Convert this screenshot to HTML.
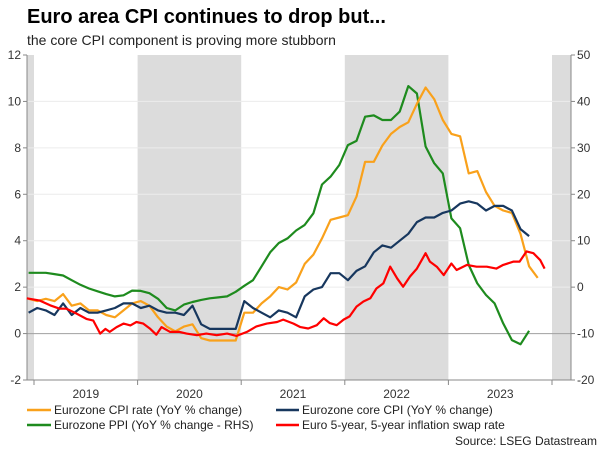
<!DOCTYPE html>
<html><head><meta charset="utf-8"><style>
body{margin:0;background:#fff;width:600px;height:450px;overflow:hidden;font-family:"Liberation Sans",Arial,sans-serif}
svg{display:block}
</style></head><body>
<svg id="chart" width="600" height="450" xmlns="http://www.w3.org/2000/svg" font-family="Liberation Sans, Arial, sans-serif">
<text x="27" y="23" font-size="20" font-weight="bold" fill="#000">Euro area CPI continues to drop but...</text>
<text x="27" y="45" font-size="14" fill="#222">the core CPI component is proving more stubborn</text>
<g id="shade"></g><g id="grid"></g><g id="axes"></g><g id="series"></g>
<g font-size="12" fill="#222">
<line x1="27" y1="410" x2="51" y2="410" stroke="#f9a11b" stroke-width="2.5"/>
<text x="54" y="414">Eurozone CPI rate (YoY % change)</text>
<line x1="27" y1="425" x2="51" y2="425" stroke="#1e8b1e" stroke-width="2.5"/>
<text x="54" y="429">Eurozone PPI (YoY % change - RHS)</text>
<line x1="276" y1="410" x2="299" y2="410" stroke="#17375e" stroke-width="2.5"/>
<text x="302" y="414">Eurozone core CPI (YoY % change)</text>
<line x1="276" y1="425" x2="299" y2="425" stroke="#ff0000" stroke-width="2.5"/>
<text x="302" y="429">Euro 5-year, 5-year inflation swap rate</text>
</g>
<text x="597" y="445" font-size="12" fill="#222" text-anchor="end">Source: LSEG Datastream</text>
</svg>
<script>
// monthly series start Dec 2018 (month index -1)
const cpi=[1.5,1.4,1.5,1.4,1.7,1.2,1.3,1.0,1.0,0.8,0.7,1.0,1.3,1.4,1.2,0.7,0.3,0.1,0.3,0.4,-0.2,-0.3,-0.3,-0.3,-0.3,0.9,0.9,1.3,1.6,2.0,1.9,2.2,3.0,3.4,4.1,4.9,5.0,5.1,5.9,7.4,7.4,8.1,8.6,8.9,9.1,9.9,10.6,10.1,9.2,8.6,8.5,6.9,7.0,6.1,5.5,5.3,5.2,4.3,2.9,2.4];
const core=[0.9,1.1,1.0,0.8,1.3,0.8,1.1,0.9,0.9,1.0,1.1,1.3,1.3,1.1,1.2,1.0,0.9,0.9,0.8,1.2,0.4,0.2,0.2,0.2,0.2,1.4,1.1,0.9,0.7,1.0,0.9,0.7,1.6,1.9,2.0,2.6,2.6,2.3,2.7,2.9,3.5,3.8,3.7,4.0,4.3,4.8,5.0,5.0,5.2,5.3,5.6,5.7,5.6,5.3,5.5,5.5,5.3,4.5,4.2];
const ppi=[3.1,3.1,3.1,2.8,2.5,1.5,0.5,-0.3,-0.9,-1.5,-2,-1.75,-0.75,-0.8,-1.3,-2.5,-4.5,-5,-3.75,-3.2,-2.75,-2.4,-2.2,-2,-1,0.3,1.5,4.5,7.5,9.5,10.5,12.2,13.4,15.9,22.1,23.8,26.3,30.6,31.5,36.7,37,36,36,37.8,43.3,41.7,30.3,26.7,24.5,14.8,12.7,4.8,0.8,-1.7,-3.5,-7.8,-11.4,-12.3,-9.4];
const swapT=[-1.2,0.3,1.5,2.6,3.4,4.6,5.7,6.5,7.3,7.9,8.4,9.2,10,10.8,11.5,12.3,13.1,13.8,14.4,15.4,16.5,17.3,18.5,19.6,20.8,22,23.1,24.3,25.4,26.6,27.8,28.5,29.7,30.5,31.4,32.4,33.2,33.9,34.7,35.5,36.2,37,37.8,38.6,39.3,40.1,40.9,41.7,42.4,43.2,44,45,45.5,46.3,47.1,48,48.6,49.8,50.9,52.1,53.2,54,55.2,55.9,56.7,57.5,58.3,58.8];
const swap=[1.52,1.42,1.22,1.07,1.07,0.85,0.63,0.56,0,0.2,0.07,0.28,0.43,0.35,0.5,0.43,0.2,-0.05,0.28,0.07,0.07,0,-0.07,0,-0.07,0,-0.1,0.07,0.31,0.43,0.5,0.6,0.43,0.28,0.22,0.36,0.66,0.45,0.36,0.6,0.74,1.16,1.38,1.52,1.94,2.16,2.88,2.38,2.02,2.46,2.8,3.46,3.1,2.88,2.52,3.02,2.74,2.96,2.88,2.88,2.8,2.96,3.1,3.1,3.54,3.46,3.16,2.8];
const leftTicks=[12,10,8,6,4,2,0,-2];
const rightTicks=[50,40,30,20,10,0,-10,-20];
const years=["2019","2020","2021","2022","2023"];
const shadeYears=[2018,2020,2022,2024];

const NS="http://www.w3.org/2000/svg";
const X0=27,X1=571,Y0=55,Y1=380;
const yL=v=>Y0+(12-v)*(Y1-Y0)/14;
const yR=v=>Y0+(50-v)*(Y1-Y0)/70;
const xYear=y=>34+(y-2019)*103.6;
const xM=t=>37.2+t*8.63;
function mk(tag,attrs,parent){const e=document.createElementNS(NS,tag);for(const k in attrs)e.setAttribute(k,attrs[k]);parent.appendChild(e);return e;}
const gS=document.getElementById('shade'),gG=document.getElementById('grid'),gA=document.getElementById('axes'),gSer=document.getElementById('series');
shadeYears.forEach(y=>{
  const a=Math.max(X0,xYear(y)),b=Math.min(X1,xYear(y+1));
  const r=mk('rect',{x:a,y:Y0,width:b-a,height:Y1-Y0,fill:'#dcdcdc'},gS);
  
  
});
leftTicks.forEach(v=>{
  const y=yL(v);
  if(v!==-2&&v!==12){const l=mk('line',{x1:X0,x2:X1,y1:y,y2:y,stroke:v===0?'#a0a0a0':'#ececec','stroke-width':1},gG);
  
  }
  mk('line',{x1:X0-4,x2:X0,y1:y,y2:y,stroke:'#888'},gA);
  const t=mk('text',{x:21,y:y+4,'font-size':12,fill:'#333','text-anchor':'end'},gA);t.textContent=v;
  
  
});
rightTicks.forEach(v=>{
  const y=yR(v);
  mk('line',{x1:X1,x2:X1+4,y1:y,y2:y,stroke:'#888'},gA);
  const t=mk('text',{x:577,y:y+4,'font-size':12,fill:'#333'},gA);t.textContent=v;
  
  
});
mk('line',{x1:X0,x2:X0,y1:Y0,y2:Y1,stroke:'#888'},gA);
mk('line',{x1:X1,x2:X1,y1:Y0,y2:Y1,stroke:'#888'},gA);
mk('line',{x1:X0,x2:X1,y1:Y1,y2:Y1,stroke:'#888'},gA);
for(let y=2019;y<=2024;y++){mk('line',{x1:xYear(y),x2:xYear(y),y1:Y1,y2:Y1+5,stroke:'#888'},gA);}
years.forEach((s,i)=>{
  const t=mk('text',{x:xYear(2019+i)+51.8,y:398,'font-size':12,fill:'#333','text-anchor':'middle'},gA);t.textContent=s;
  
  
});
function line(vals,ts,yf,color,name){
  const d=vals.map((v,i)=>(i?'L':'M')+xM(ts?ts[i]:i-1).toFixed(1)+' '+yf(v).toFixed(1)).join(' ');
  const p=mk('path',{d:d,fill:'none',stroke:color,'stroke-width':2.2,'stroke-linejoin':'round'},gSer);
  
  
}
line(ppi,null,yR,'#1e8b1e','ppi-line');
line(cpi,null,yL,'#f9a11b','cpi-line');
line(core,null,yL,'#17375e','core-cpi-line');
line(swap,swapT,yL,'#ff0000','swap-rate-line');
</script>
</body></html>
